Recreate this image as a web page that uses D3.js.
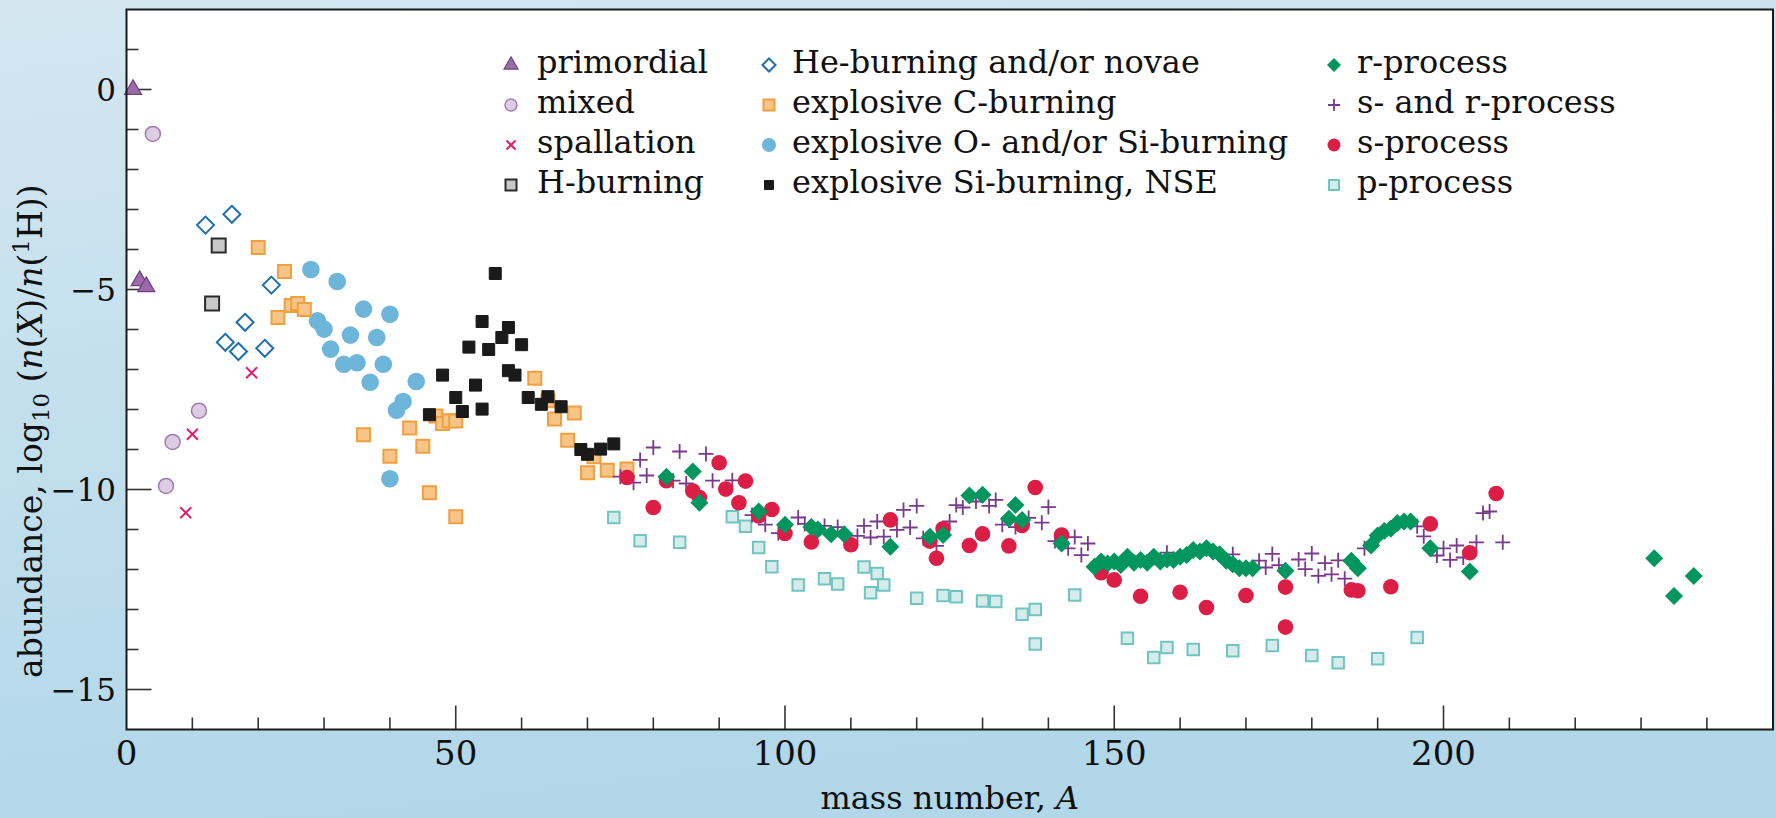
<!DOCTYPE html>
<html><head><meta charset="utf-8">
<script src="https://cdn.jsdelivr.net/npm/d3@7"></script>
<style>
html,body{margin:0;padding:0;}
body{width:1776px;height:818px;overflow:hidden;}
</style></head>
<body>
<svg id="chart" width="1776" height="818"></svg>
<script>
// ---------- data: [mass number A, log10 abundance] ----------
const primordial = [[1,0],[2,-4.78],[3,-4.93]];
const mixed = [[4,-1.11],[6,-9.91],[7,-8.81],[11,-8.03]];
const spallation = [[9,-10.58],[10,-8.62],[19,-7.08]];
const hBurning = [[13,-5.35],[14,-3.9]];
const heBurning = [[12,-3.39],[15,-6.32],[16,-3.12],[17,-6.55],[18,-5.82],[21,-6.47],[22,-4.89]];
const cBurning = [[20,-3.95],[23,-5.7],[24,-4.55],[25,-5.4],[26,-5.35],[27,-5.5],[36,-8.63],[40,-9.17],[43,-8.46],[45,-8.92],[46,-10.08],[47,-8.16],[48,-8.35],[49,-8.28],[50,-8.29],[50,-10.68],[62,-7.22],[64,-7.78],[65,-8.24],[67,-8.77],[68,-8.09],[70,-9.58],[71,-9.18],[73,-9.52],[76,-9.49]];
const oSiBurning = [[28,-4.5],[29,-5.78],[30,-5.99],[31,-6.49],[32,-4.8],[33,-6.87],[34,-6.14],[35,-6.83],[36,-5.49],[37,-7.32],[38,-6.2],[39,-6.87],[40,-5.62],[40,-9.73],[41,-8.02],[42,-7.8],[44,-7.3]];
const siBurningNSE = [[46,-8.13],[48,-7.14],[50,-7.7],[51,-8.05],[52,-6.44],[53,-7.39],[54,-5.8],[54,-7.99],[55,-6.5],[56,-4.6],[57,-6.2],[58,-5.95],[58,-7.03],[59,-7.14],[60,-6.38],[61,-7.7],[63,-7.87],[64,-7.68],[66,-7.93],[69,-9.0],[70,-9.12],[72,-8.99],[74,-8.86]];
const rProcess = [[82,-9.68],[86,-9.55],[87,-10.33],[96,-10.55],[100,-10.88],[104,-10.94],[105,-11.0],[107,-11.12],[109,-11.12],[116,-11.43],[122,-11.18],[124,-11.14],[128,-10.15],[130,-10.13],[134,-10.73],[135,-10.39],[136,-10.76],[142,-11.35],[147,-11.93],[148,-11.8],[149,-11.85],[150,-11.8],[151,-11.89],[152,-11.68],[153,-11.83],[154,-11.76],[155,-11.83],[156,-11.68],[157,-11.8],[158,-11.75],[159,-11.76],[160,-11.68],[161,-11.64],[162,-11.51],[163,-11.55],[164,-11.47],[165,-11.55],[166,-11.62],[167,-11.78],[168,-11.87],[169,-11.97],[170,-11.97],[171,-11.97],[176,-12.03],[186,-11.78],[187,-11.97],[189,-11.4],[190,-11.15],[191,-11.04],[192,-10.98],[193,-10.84],[194,-10.8],[195,-10.8],[198,-11.47],[204,-12.05],[232,-11.72],[235,-12.66],[238,-12.16]];
const sAndR = [[75,-9.68],[77,-9.83],[78,-9.26],[79,-9.65],[80,-8.95],[83,-9.78],[84,-9.05],[85,-9.85],[88,-9.11],[89,-9.78],[92,-9.77],[95,-10.64],[97,-10.88],[99,-11.09],[102,-10.7],[103,-10.86],[106,-10.91],[108,-10.94],[111,-11.16],[112,-10.91],[113,-11.2],[114,-10.8],[115,-11.18],[117,-11.01],[118,-10.51],[119,-10.95],[120,-10.41],[121,-11.22],[123,-11.41],[125,-10.8],[126,-10.39],[127,-10.45],[129,-10.3],[131,-10.41],[132,-10.26],[133,-10.88],[135,-10.94],[137,-10.71],[139,-10.83],[140,-10.44],[141,-11.29],[143,-11.47],[144,-11.19],[145,-11.64],[146,-11.35],[158,-11.58],[168,-11.62],[172,-11.78],[173,-11.95],[174,-11.61],[175,-11.89],[178,-11.75],[179,-11.99],[180,-11.6],[181,-12.16],[182,-11.84],[183,-12.12],[184,-11.77],[185,-12.23],[188,-11.47],[190,-11.18],[196,-10.92],[197,-11.17],[199,-11.65],[200,-11.47],[201,-11.76],[202,-11.4],[203,-11.7],[205,-11.32],[206,-10.59],[207,-10.55],[209,-11.32]];
const sProcess = [[76,-9.7],[80,-10.45],[82,-9.78],[86,-10.04],[87,-10.2],[90,-9.33],[91,-9.99],[93,-10.33],[94,-9.79],[96,-10.66],[98,-10.5],[100,-11.1],[104,-11.31],[110,-11.38],[116,-10.76],[122,-11.29],[123,-11.72],[124,-10.98],[128,-11.4],[130,-11.11],[134,-11.41],[136,-10.9],[138,-9.95],[142,-11.14],[148,-12.08],[150,-12.26],[154,-12.67],[160,-12.57],[164,-12.95],[170,-12.65],[176,-12.44],[176,-13.44],[186,-12.51],[187,-12.53],[192,-12.43],[198,-10.86],[204,-11.58],[208,-10.1]];
const pProcess = [[74,-10.7],[78,-11.28],[84,-11.32],[92,-10.68],[94,-10.92],[96,-11.45],[98,-11.93],[102,-12.39],[106,-12.23],[108,-12.36],[112,-11.94],[113,-12.58],[114,-12.1],[115,-12.39],[120,-12.72],[124,-12.65],[126,-12.68],[130,-12.79],[132,-12.8],[136,-13.12],[138,-13.0],[138,-13.86],[144,-12.64],[152,-13.72],[156,-14.2],[158,-13.95],[162,-14.0],[168,-14.03],[174,-13.9],[180,-14.15],[184,-14.33],[190,-14.23],[196,-13.7]];

const xTickLabels = [0, 50, 100, 150, 200];
const yTickLabels = [0, -5, -10, -15];
const legendColumns = [
  ["primordial","mixed","spallation","H-burning"],
  ["He-burning and/or novae","explosive C-burning","explosive O- and/or Si-burning","explosive Si-burning, NSE"],
  ["r-process","s- and r-process","s-process","p-process"]
];

// ---------- styles ----------
const styles = {
  "primordial":{data:primordial, shape:"tri", size:17, legSize:14, fill:"#9b6ba8", stroke:"#6f4082", sw:1.2},
  "mixed":{data:mixed, shape:"circle", size:7.5, legSize:6, fill:"#dccde2", stroke:"#a27db0", sw:1.5},
  "spallation":{data:spallation, shape:"x", size:5.5, legSize:4.5, fill:"none", stroke:"#e0206e", sw:2},
  "H-burning":{data:hBurning, shape:"square", size:14, legSize:11, fill:"#c8c8c8", stroke:"#2b2b2b", sw:2},
  "He-burning and/or novae":{data:heBurning, shape:"diamond", size:8.5, legSize:6.5, fill:"#ffffff", stroke:"#1f6fb2", sw:2},
  "explosive C-burning":{data:cBurning, shape:"square", size:13, legSize:11, fill:"#f7c587", stroke:"#f0a040", sw:2},
  "explosive O- and/or Si-burning":{data:oSiBurning, shape:"circle", size:8.8, legSize:7, fill:"#6db6d9", stroke:"none", sw:0},
  "explosive Si-burning, NSE":{data:siBurningNSE, shape:"square", size:12, legSize:9, fill:"#1a1a1a", stroke:"#1a1a1a", sw:1},
  "r-process":{data:rProcess, shape:"diamond", size:9, legSize:7, fill:"#00965e", stroke:"none", sw:0},
  "s- and r-process":{data:sAndR, shape:"plus", size:7.5, legSize:6, fill:"none", stroke:"#7a3a8c", sw:1.8},
  "s-process":{data:sProcess, shape:"circle", size:7.8, legSize:6.5, fill:"#dc1e47", stroke:"none", sw:0},
  "p-process":{data:pProcess, shape:"square", size:11.5, legSize:10, fill:"#d5ecea", stroke:"#70c4c1", sw:2}
};
const drawOrder = ["p-process","primordial","mixed","spallation","H-burning","He-burning and/or novae",
  "explosive O- and/or Si-burning","explosive C-burning","explosive Si-burning, NSE",
  "s- and r-process","s-process","r-process"];

function shapePath(shape, s){
  if(shape==="tri"){const h=s*0.866;return `M0,${-h*2/3}L${s/2},${h/3}L${-s/2},${h/3}Z`;}
  if(shape==="square"){return `M${-s/2},${-s/2}h${s}v${s}h${-s}Z`;}
  if(shape==="diamond"){return `M0,${-s}L${s},0L0,${s}L${-s},0Z`;}
  if(shape==="plus"){return `M${-s},0H${s}M0,${-s}V${s}`;}
  if(shape==="x"){return `M${-s},${-s}L${s},${s}M${-s},${s}L${s},${-s}`;}
  return "";
}
function drawMarker(g, st, x, y, s){
  if(st.shape==="circle"){
    g.append("circle").attr("cx",x).attr("cy",y).attr("r",s)
      .attr("fill",st.fill).attr("stroke",st.stroke).attr("stroke-width",st.sw);
  } else {
    g.append("path").attr("d",shapePath(st.shape,s)).attr("transform",`translate(${x},${y})`)
      .attr("fill",st.fill).attr("stroke",st.stroke).attr("stroke-width",st.sw);
  }
}

// ---------- layout ----------
const W=1776, H=818;
const L=126.5, R=1773, T=9.5, B=729.5;
const FONT = "DejaVu Serif";
const svg = d3.select("#chart");
const defs = svg.append("defs");
const grad = defs.append("linearGradient").attr("id","bg").attr("x1",0).attr("y1",0).attr("x2",0.25).attr("y2",1);
grad.append("stop").attr("offset","0%").attr("stop-color","#d4e7f1");
grad.append("stop").attr("offset","100%").attr("stop-color","#b1d7e9");
svg.append("rect").attr("width",W).attr("height",H).attr("fill","url(#bg)");
svg.append("rect").attr("x",L).attr("y",T).attr("width",R-L).attr("height",B-T).attr("fill","#fff");

const x = d3.scaleLinear().domain([0,250]).range([L, L+250*6.585]);
const y = d3.scaleLinear().domain([-16,2]).range([B, T]);

// ticks
const tickG = svg.append("g").attr("stroke","#333").attr("stroke-width",1.6);
d3.range(10,250,10).forEach(v=>{
  const major = v%50===0;
  tickG.append("line").attr("x1",x(v)).attr("x2",x(v)).attr("y1",B).attr("y2",B-(major?24:12));
});
d3.range(-15,2,1).forEach(v=>{
  const major = v%5===0;
  tickG.append("line").attr("x1",L).attr("x2",L+(major?25:12)).attr("y1",y(v)).attr("y2",y(v));
});

// points
const pts = svg.append("g");
drawOrder.forEach(name=>{
  const st = styles[name];
  st.data.forEach(d=>drawMarker(pts, st, x(d[0]), y(d[1]), st.size));
});

// frame
svg.append("rect").attr("x",L).attr("y",T).attr("width",R-L).attr("height",B-T)
  .attr("fill","none").attr("stroke","#1a1a1a").attr("stroke-width",2);

// tick labels
const fmt = v => (v<0?"\u2212":"")+Math.abs(v);
svg.append("g").selectAll("text").data(xTickLabels).join("text")
  .style("font-family",FONT).attr("fill","#111")
  .attr("x",d=>x(d)).attr("y",765).attr("text-anchor","middle")
  .attr("font-size",34).text(fmt);
svg.append("g").selectAll("text").data(yTickLabels).join("text")
  .style("font-family",FONT).attr("fill","#111")
  .attr("x",116).attr("y",d=>y(d)+11.5).attr("text-anchor","end")
  .attr("font-size",31).text(fmt);

// axis labels
const xl = svg.append("text").style("font-family",FONT).attr("fill","#111")
  .attr("x",(L+R)/2).attr("y",809).attr("text-anchor","middle").attr("font-size",32);
xl.append("tspan").text("mass number, ");
xl.append("tspan").attr("font-style","italic").text("A");

const yl = svg.append("text").style("font-family",FONT).attr("fill","#111")
  .attr("transform","translate(42,678) rotate(-90)").attr("text-anchor","start").attr("font-size",33);
yl.append("tspan").text("abundance, log");
yl.append("tspan").attr("font-size",23).attr("dy",7).text("10");
yl.append("tspan").attr("dy",-7).text(" (");
yl.append("tspan").attr("font-style","italic").text("n");
yl.append("tspan").text("(");
yl.append("tspan").attr("font-style","italic").text("X");
yl.append("tspan").text(")/");
yl.append("tspan").attr("font-style","italic").text("n");
yl.append("tspan").text("(");
yl.append("tspan").attr("font-size",23).attr("dy",-13).text("1");
yl.append("tspan").attr("dy",13).text("H))");

// legend
const colText = [537, 792, 1357];
const colMark = [511, 769, 1334];
const rowBase = [73, 113, 153, 193];
const leg = svg.append("g");
legendColumns.forEach((col,ci)=>{
  col.forEach((name,ri)=>{
    const st = styles[name];
    drawMarker(leg, st, colMark[ci], rowBase[ri]-8, st.legSize);
    leg.append("text").style("font-family",FONT).attr("fill","#111")
      .attr("x",colText[ci]).attr("y",rowBase[ri]).attr("font-size",32).text(name);
  });
});
</script>
</body></html>
